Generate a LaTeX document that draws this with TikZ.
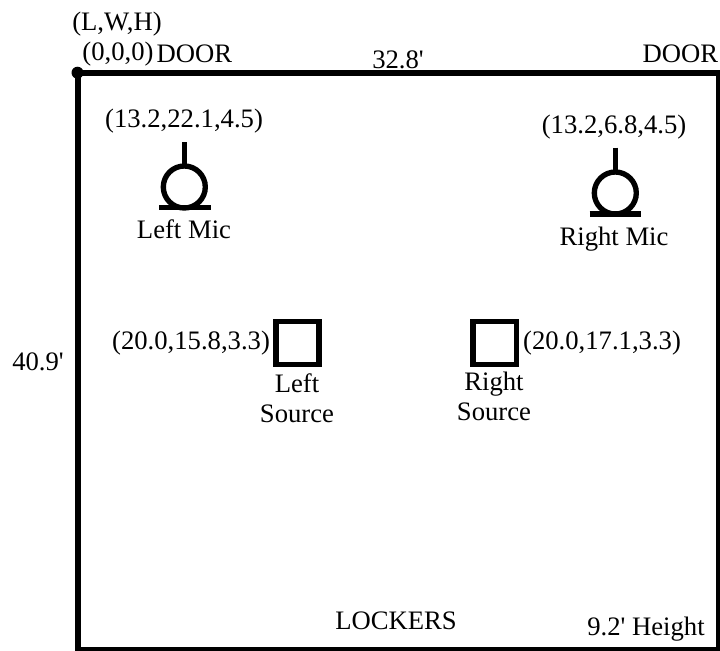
\documentclass[tikz,border=0pt]{standalone}
\usepackage{fontspec}
\newfontfamily\lblfont{Liberation Serif}
\tikzset{
  lbl/.style={inner sep=0pt,font=\lblfont\fontsize{20}{22.5}\selectfont,align=center},
  thick line/.style={line width=4pt,draw=black},
  mic/.style={line width=4pt,draw=black}
}
\begin{document}
\begin{tikzpicture}[x=0.75pt,y=-0.75pt]
\useasboundingbox (0,0) rectangle (720,650);
\begin{scope}
\clip (0,0) rectangle (720,650);
\draw[thick line] (78,73) rectangle (718.5,649.5);
\end{scope}
\fill (77.5,72.7) circle (6);
\node[lbl] (lwh) at (117,24) {(L,W,H)};
\node[lbl] (origin) at (118,54) {(0,0,0)};
\node[lbl] (door1) at (194.5,54) {DOOR};
\node[lbl] (width) at (398,60) {32.8'};
\node[lbl] (door2) at (680.5,54) {DOOR};
\node[lbl] (lmc) at (184,121) {(13.2,22.1,4.5)};
\node[lbl] (rmc) at (614,127) {(13.2,6.8,4.5)};
\node[lbl] (lm) at (184,229) {Left Mic};
\node[lbl] (rm) at (614,239) {Right Mic};
\node[lbl] (lsc) at (191,343) {(20.0,15.8,3.3)};
\node[lbl] (rsc) at (602,343) {(20.0,17.1,3.3)};
\node[lbl] (depth) at (38,362) {40.9'};
\node[lbl] (ls) at (297,398) {Left\\Source};
\node[lbl] (rs) at (494,396.5) {Right\\Source};
\node[lbl] (lockers) at (396,621) {LOCKERS};
\node[lbl] (height) at (646,629) {9.2' Height};
\draw[mic] (184.3,187) circle (21);
\draw[mic] (184.5,142) -- (184.5,166);
\draw[mic] (159,207.5) -- (210.5,207.5);
\draw[mic] (615.3,193) circle (21);
\draw[mic] (615.3,147.5) -- (615.3,172);
\draw[mic] (589.5,214) -- (641,214);
\draw[thick line] (276,321.5) rectangle (319,364.5);
\draw[thick line] (473,321.5) rectangle (516.5,364.5);
\end{tikzpicture}
\end{document}
